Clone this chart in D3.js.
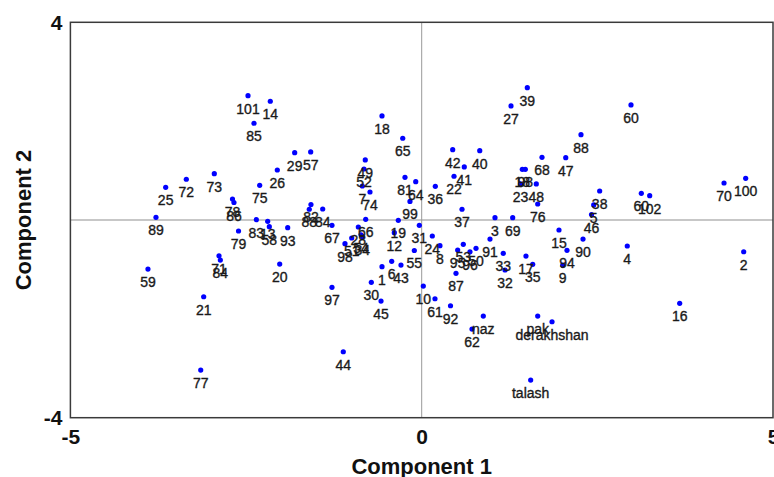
<!DOCTYPE html>
<html>
<head>
<meta charset="utf-8">
<script src="https://cdn.jsdelivr.net/npm/d3@7"></script>
<style>
  body { margin: 0; background: #fff; }
  svg { display: block; font-family: "Liberation Sans", Arial, sans-serif; }
</style>
</head>
<body>
<div id="pca_viz"></div>
<script>
// Point labels and scores
const pointLabels = ["101","14","85","18","65","29","57","26","75","25","72","73","78","86","89","79","59","71","84","21",
  "49","52","7","74","81","64","99","82","88","84","83","13","58","93","67","20","97","66","28","51",
  "54","34","98","19","12","31","55","6","43","1","30","45","10","61","92","39","27","88","42","40",
  "41","22","36","68","47","18","98","23","48","76","38","5","46","60","60","102","70","100","4","2",
  "16","37","3","69","24","8","91","53","95","96","50","87","33","32","17","35","15","90","94","9",
  "44","77","62","naz","pak","derakhshan","talash"];

const comp1 = [-2.472,-2.155,-2.387,-0.565,-0.270,-1.808,-1.580,-2.055,-2.306,-3.644,-3.350,-2.952,-2.693,-2.672,-3.782,-2.607,-3.896,-2.885,-2.866,-3.103,
  -0.803,-0.821,-0.845,-0.736,-0.238,-0.085,-0.167,-1.576,-1.600,-1.409,-2.354,-2.192,-2.169,-1.907,-1.277,-2.021,-1.277,-0.797,-0.902,-0.996,
  -0.864,-0.845,-1.092,-0.333,-0.390,-0.034,-0.105,-0.427,-0.295,-0.565,-0.717,-0.579,0.023,0.189,0.410,1.503,1.271,2.267,0.441,0.826,
  0.606,0.460,0.194,1.712,2.050,1.432,1.475,1.406,1.631,1.651,2.533,2.448,2.417,2.979,3.126,3.245,4.303,4.611,2.926,4.583,
  3.672,0.574,1.043,1.295,0.151,0.260,0.972,0.592,0.512,0.687,0.773,0.488,1.161,1.186,1.484,1.580,1.954,2.296,2.068,2.007,
  -1.116,-3.145,0.716,0.877,1.651,1.855,1.551];

const comp2 = [2.516,2.403,1.958,2.105,1.654,1.362,1.377,1.012,0.702,0.662,0.824,0.937,0.425,0.354,0.055,-0.223,-0.992,-0.723,-0.810,-1.553,
  1.215,1.032,0.688,0.567,0.864,0.775,0.375,0.314,0.217,0.223,0.006,-0.026,-0.136,-0.156,-0.107,-0.891,-1.362,0.014,-0.142,-0.364,
  -0.298,-0.334,-0.480,-0.006,-0.257,-0.107,-0.617,-0.836,-0.911,-0.945,-1.261,-1.640,-1.336,-1.593,-1.735,2.678,2.308,1.727,1.423,1.403,
  1.073,0.885,0.682,1.269,1.261,1.026,1.026,0.729,0.729,0.324,0.587,0.304,0.111,2.328,0.540,0.492,0.749,0.844,-0.526,-0.642,
  -1.686,0.217,0.047,0.047,-0.324,-0.520,-0.385,-0.492,-0.607,-0.642,-0.573,-1.079,-0.674,-1.012,-0.729,-0.897,-0.202,-0.385,-0.613,-0.911,
  -2.666,-3.036,-2.206,-1.943,-1.943,-2.059,-3.239];

const xTicks = [-5, 0, 5];
const yTicks = [-4, 4];

const data = pointLabels.map((label, i) => ({label, x: comp1[i], y: comp2[i]}));

// Set up dimensions
let dimensions = {
    width: 774,
    height: 477,
    margin: {top: 22.3, right: 1, bottom: 59.3, left: 70.4},
}
dimensions.boundedWidth = dimensions.width - dimensions.margin.left - dimensions.margin.right
dimensions.boundedHeight = dimensions.height - dimensions.margin.top - dimensions.margin.bottom

// Set up scales
const xScale = d3.scaleLinear()
    .domain([-5, 5])
    .range([0, dimensions.boundedWidth]);

const yScale = d3.scaleLinear()
    .domain([-4, 4])
    .range([dimensions.boundedHeight, 0]);

const svg = d3.select("#pca_viz")
    .append("svg")
        .attr("width", dimensions.width)
        .attr("height", dimensions.height)

const bounds = svg.append("g")
    .attr("transform", `translate(${dimensions.margin.left}, ${dimensions.margin.top})`)

// Zero lines
bounds.append("line")
    .attr("x1", 0)
    .attr("x2", dimensions.boundedWidth)
    .attr("y1", yScale(0))
    .attr("y2", yScale(0))
    .attr("stroke", "#b4b4b4")
    .attr("stroke-width", 1.6)

bounds.append("line")
    .attr("x1", xScale(0))
    .attr("x2", xScale(0))
    .attr("y1", 0)
    .attr("y2", dimensions.boundedHeight)
    .attr("stroke", "#999")
    .attr("stroke-width", 1)

// Frame
bounds.append("rect")
    .attr("width", dimensions.boundedWidth)
    .attr("height", dimensions.boundedHeight)
    .attr("fill", "none")
    .attr("stroke", "#3a3a3a")
    .attr("stroke-width", 1.5)

// X Axis
const xAxis = bounds.append("g")
    .attr("transform", `translate(0, ${dimensions.boundedHeight})`)
    .call(d3.axisBottom(xScale).tickValues(xTicks).tickSize(0).tickPadding(11)
        .tickFormat(d => String(d)))
xAxis.select(".domain").remove()
xAxis.selectAll("text")
    .attr("font-size", 21)
    .attr("font-weight", "bold")
    .attr("fill", "#111")

// Y Axis
const yAxis = bounds.append("g")
    .call(d3.axisLeft(yScale).tickValues(yTicks).tickSize(0).tickPadding(8)
        .tickFormat(d => String(d)))
yAxis.select(".domain").remove()
yAxis.selectAll("text")
    .attr("font-size", 21)
    .attr("font-weight", "bold")
    .attr("fill", "#111")

// Axis labels
svg.append("text")
    .attr("x", dimensions.margin.left + xScale(0))
    .attr("y", 474)
    .attr("text-anchor", "middle")
    .attr("font-size", 22)
    .attr("font-weight", "bold")
    .attr("fill", "#111")
    .text("Component 1")

svg.append("text")
    .attr("transform", `translate(31, ${dimensions.margin.top + yScale(0)}) rotate(-90)`)
    .attr("text-anchor", "middle")
    .attr("font-size", 22)
    .attr("font-weight", "bold")
    .attr("fill", "#111")
    .text("Component 2")

// Points
bounds.append("g")
    .selectAll("circle")
    .data(data)
    .join("circle")
        .attr("cx", d => xScale(d.x))
        .attr("cy", d => yScale(d.y))
        .attr("r", 2.6)
        .attr("fill", "#0000ff")

// Point labels
bounds.append("g")
    .selectAll("text")
    .data(data)
    .join("text")
        .attr("x", d => xScale(d.x))
        .attr("y", d => yScale(d.y) + 18)
        .attr("text-anchor", "middle")
        .attr("font-size", 14)
        .attr("fill", "#1a1a1a")
        .attr("stroke", "#1a1a1a")
        .attr("stroke-width", 0.35)
        .text(d => d.label)
</script>
</body>
</html>
